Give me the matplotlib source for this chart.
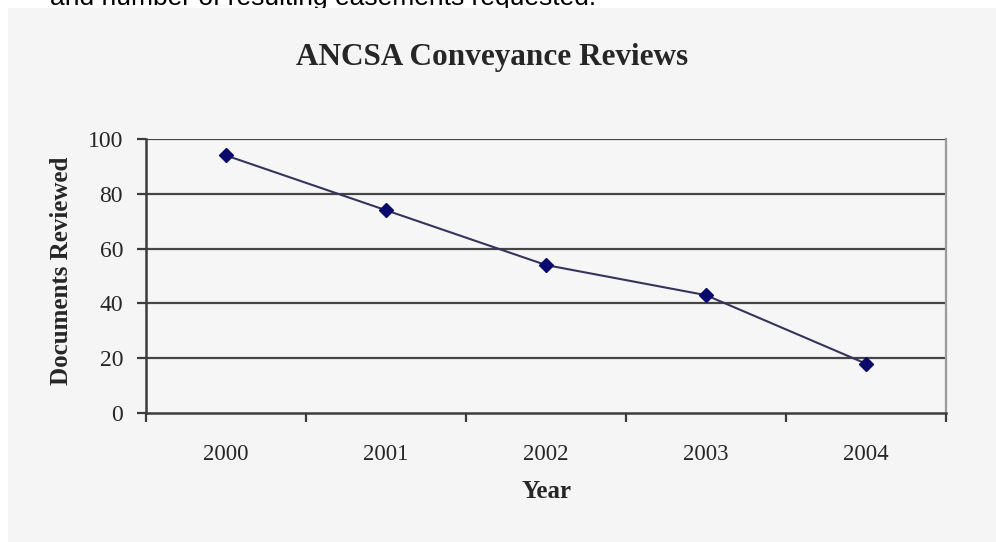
import matplotlib
matplotlib.use("Agg")
import matplotlib.pyplot as plt
from matplotlib.patches import Rectangle

# Data
years = ["2000", "2001", "2002", "2003", "2004"]
documents_reviewed = [94, 74, 54, 43, 18]
y_ticks = [0, 20, 40, 60, 80, 100]

W, H = 996, 542
fig = plt.figure(figsize=(W / 100, H / 100), dpi=100)
fig.patch.set_facecolor("white")

def fx(px):
    return px / W

def fy(py):
    return 1 - py / H

# Caption line above the chart panel (partly covered by the panel)
fig.text(fx(50), fy(5), "and number of resulting easements requested.",
         family="Liberation Sans", fontsize=19, color="black",
         ha="left", va="baseline", zorder=-2)

# Light grey chart panel
panel = Rectangle((fx(8), 0), 1 - fx(8), fy(8), transform=fig.transFigure,
                  facecolor="#f5f5f5", edgecolor="none", zorder=-1)
fig.patches.append(panel)

left, right, top, bottom = 146, 946, 139, 413
ax = fig.add_axes([fx(left), fy(bottom), (right - left) / W, (bottom - top) / H])
ax.set_facecolor("#f6f6f6")

x = list(range(len(years)))
ax.plot(x, documents_reviewed, color="#34345e", linewidth=1.5,
        marker="D", markersize=7, markerfacecolor="#0a0a6e",
        markeredgecolor="#0a0a6e", zorder=3, clip_on=False)

ax.set_xlim(-0.5, len(years) - 0.5)
ax.set_ylim(0, 100)

# Horizontal gridlines
for v in y_ticks[1:]:
    ax.axhline(v, color="#454545", linewidth=1.6, zorder=1)

# Spines
ax.spines["top"].set_visible(False)
ax.spines["left"].set_color("#3c3c3c")
ax.spines["left"].set_linewidth(1.8)
ax.spines["bottom"].set_color("#3c3c3c")
ax.spines["bottom"].set_linewidth(1.8)
ax.spines["right"].set_color("#9a9a9a")
ax.spines["right"].set_linewidth(1.6)

serif = "Liberation Serif"
text_color = "#262626"

# Y axis ticks
ax.set_yticks(y_ticks)
ax.set_yticklabels([str(v) for v in y_ticks], family=serif, fontsize=17,
                   color=text_color)
ax.tick_params(axis="y", direction="out", length=6.5, width=1.6,
               color="#3c3c3c", pad=10)

# X axis: labels at category centres, tick marks at category boundaries
ax.set_xticks(x)
ax.set_xticklabels(years, family=serif, fontsize=16.5, color=text_color)
ax.tick_params(axis="x", which="major", length=0, pad=22)
ax.set_xticks([i - 0.5 for i in range(len(years) + 1)], minor=True)
ax.tick_params(axis="x", which="minor", direction="out", length=6.5,
               width=1.6, color="#3c3c3c")

# Titles
fig.text(fx(492), fy(57), "ANCSA Conveyance Reviews", family=serif,
         fontweight="bold", fontsize=22.5, color=text_color,
         ha="center", va="center")
fig.text(fx(546), fy(492), "Year", family=serif, fontweight="bold",
         fontsize=18, color=text_color, ha="center", va="center")
fig.text(fx(62), fy(271), "Documents Reviewed", family=serif,
         fontweight="bold", fontsize=18, color=text_color,
         ha="center", va="center", rotation=90)

fig.savefig("out.png", dpi=100, facecolor=fig.get_facecolor())
